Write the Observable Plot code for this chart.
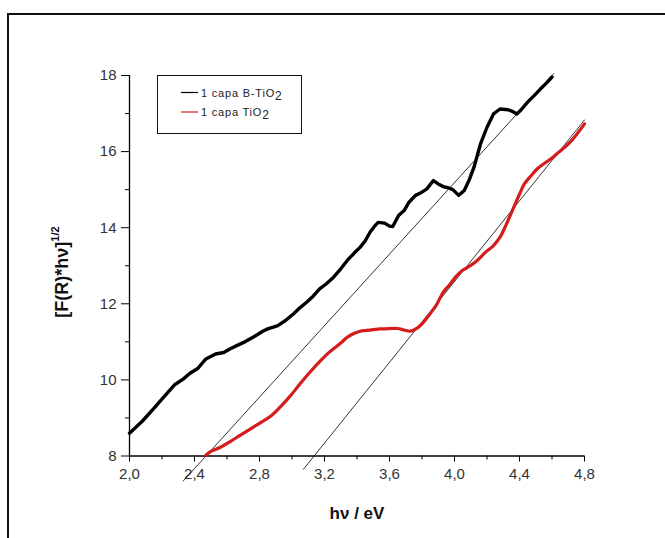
<!DOCTYPE html>
<html><head><meta charset="utf-8">
<script src="https://cdn.jsdelivr.net/npm/d3@7"></script>
<script src="https://cdn.jsdelivr.net/npm/@observablehq/plot@0.6"></script>
<style>
body{margin:0;background:#fff}
#chart{position:relative;width:665px;height:538px;overflow:hidden}
#chart svg text{font-family:"Liberation Sans",Arial,sans-serif}
#chart svg g[aria-label="x-axis tick label"], #chart svg g[aria-label="y-axis tick label"]{fill:#333;font-size:15px}
</style>
</head><body><div id="chart"></div><script>
// B-TiO2 (black) series
const bX = [2.00,2.08,2.15,2.19,2.28,2.33,2.37,2.42,2.47,2.53,2.58,2.62,2.66,2.71,2.76,2.82,2.85,2.91,2.96,3.01,3.05,3.09,3.13,3.17,3.21,3.256,3.30,3.34,3.38,3.42,3.45,3.48,3.51,3.53,3.57,3.60,3.62,3.656,3.69,3.72,3.76,3.79,3.83,3.87,3.90,3.93,3.96,3.99,4.026,4.06,4.09,4.12,4.16,4.20,4.24,4.28,4.33,4.36,4.385,4.41,4.45,4.49,4.53,4.57,4.60];
const bY = [8.60,8.92,9.25,9.45,9.88,10.02,10.17,10.30,10.55,10.68,10.72,10.82,10.90,11.00,11.12,11.28,11.34,11.42,11.56,11.74,11.90,12.04,12.20,12.39,12.52,12.70,12.92,13.14,13.32,13.49,13.65,13.88,14.05,14.14,14.12,14.04,14.03,14.32,14.45,14.67,14.85,14.91,15.02,15.24,15.15,15.08,15.05,15.00,14.85,14.98,15.25,15.59,16.20,16.64,16.99,17.12,17.10,17.05,16.99,17.10,17.30,17.47,17.65,17.82,17.96];
// TiO2 (red) series
const rX = [2.47,2.50,2.56,2.62,2.68,2.74,2.80,2.87,2.93,2.99,3.05,3.11,3.17,3.23,3.30,3.34,3.38,3.42,3.46,3.50,3.54,3.60,3.65,3.69,3.73,3.77,3.80,3.85,3.89,3.93,3.97,4.01,4.05,4.09,4.14,4.19,4.24,4.28,4.32,4.365,4.40,4.43,4.47,4.51,4.55,4.60,4.64,4.68,4.72,4.76,4.80];
const rY = [8.02,8.12,8.23,8.38,8.54,8.70,8.86,9.05,9.30,9.58,9.90,10.20,10.48,10.73,10.97,11.12,11.22,11.28,11.30,11.32,11.34,11.35,11.35,11.31,11.28,11.36,11.47,11.74,11.98,12.30,12.50,12.72,12.88,12.98,13.14,13.35,13.53,13.75,14.10,14.54,14.88,15.15,15.36,15.55,15.68,15.83,15.98,16.12,16.29,16.50,16.73];
// tangent (Tauc extrapolation) lines
const t1X = [2.33, 4.61], t1Y = [7.34, 18.05];
const t2X = [3.07, 4.80], t2Y = [7.65, 16.83];
// ticks
const xMajor = [2.0,2.4,2.8,3.2,3.6,4.0,4.4,4.8];
const xMinor = [2.2,2.6,3.0,3.4,3.8,4.2,4.6];
const yMajor = [8,10,12,14,16,18];
const yMinor = [9,11,13,15,17];
const seriesNames = ["1 capa B-TiO", "1 capa TiO"];
const seriesColors = ["#000000", "#d41c1c"];

const black = bX.map((x,i)=>({x, y:bY[i]}));
const red = rX.map((x,i)=>({x, y:rY[i]}));
const tan1 = t1X.map((x,i)=>({x, y:t1Y[i]}));
const tan2 = t2X.map((x,i)=>({x, y:t2Y[i]}));

const FONT = '"Liberation Sans", Arial, sans-serif';

const chart = Plot.plot({
  width: 665, height: 538,
  marginLeft: 129, marginRight: 81, marginTop: 75, marginBottom: 82.5,
  x: {domain: [2, 4.8]},
  y: {domain: [8, 18]},
  style: {fontFamily: FONT, background: "#fff", overflow: "visible"},
  marks: [
    Plot.axisX({ticks: xMajor, tickSize: 6, tickPadding: 6, fontSize: 15, label: null, color: "#000",
      tickFormat: d => d.toFixed(1).replace(".", ",")}),
    Plot.axisX({ticks: xMinor, tickSize: 4, label: null, color: "#000", tickFormat: () => ""}),
    Plot.axisY({ticks: yMajor, tickSize: 8, tickPadding: 5, fontSize: 15, label: null, color: "#000"}),
    Plot.axisY({ticks: yMinor, tickSize: 4, label: null, color: "#000", tickFormat: () => ""}),
    Plot.ruleY([8], {stroke: "#000", strokeWidth: 1.3}),
    Plot.ruleX([2], {stroke: "#000", strokeWidth: 1.3}),
    Plot.line(tan1, {x: "x", y: "y", stroke: "#000", strokeWidth: 0.8}),
    Plot.line(tan2, {x: "x", y: "y", stroke: "#000", strokeWidth: 0.8}),
    Plot.line(red, {x: "x", y: "y", stroke: seriesColors[1], strokeWidth: 3.2, curve: "catmull-rom"}),
    Plot.line(black, {x: "x", y: "y", stroke: seriesColors[0], strokeWidth: 3.4, curve: "linear"})
  ]
});
document.getElementById("chart").appendChild(chart);

const svg = d3.select(chart);
// outer frame (left + top edges of the figure border)
svg.append("path").attr("d", "M8,538V14H665").attr("fill", "none").attr("stroke", "#111").attr("stroke-width", 2);

// axis titles
svg.append("text").attr("x", 357).attr("y", 519).attr("text-anchor", "middle").attr("font-family", FONT)
  .attr("font-size", 17).attr("font-weight", "bold").attr("fill", "#111").text("hν / eV");
const yt = svg.append("text").attr("transform", "translate(68,272) rotate(-90)").attr("text-anchor", "middle")
  .attr("font-family", FONT).attr("font-size", 18).attr("font-weight", "bold").attr("fill", "#111");
yt.append("tspan").text("[F(R)*hν]");
yt.append("tspan").attr("font-size", 11).attr("dy", -9).text("1/2");

// legend
const lg = svg.append("g");
lg.append("rect").attr("x", 157.5).attr("y", 75.5).attr("width", 144).attr("height", 58)
  .attr("fill", "#fff").attr("stroke", "#111").attr("stroke-width", 1);
seriesNames.forEach((name, i) => {
  const y = 92.5 + i * 19.5;
  lg.append("line").attr("x1", 181).attr("x2", 198).attr("y1", y).attr("y2", y)
    .attr("stroke", seriesColors[i]).attr("stroke-width", 1.2);
  const t = lg.append("text").attr("x", 201).attr("y", y + 4).attr("font-size", 11)
    .attr("font-family", FONT).attr("text-anchor", "start")
    .attr("letter-spacing", 0.8).attr("fill", "#222");
  t.append("tspan").text(name);
  t.append("tspan").attr("dy", 3).attr("font-size", 12).text("2");
});
</script></body></html>
